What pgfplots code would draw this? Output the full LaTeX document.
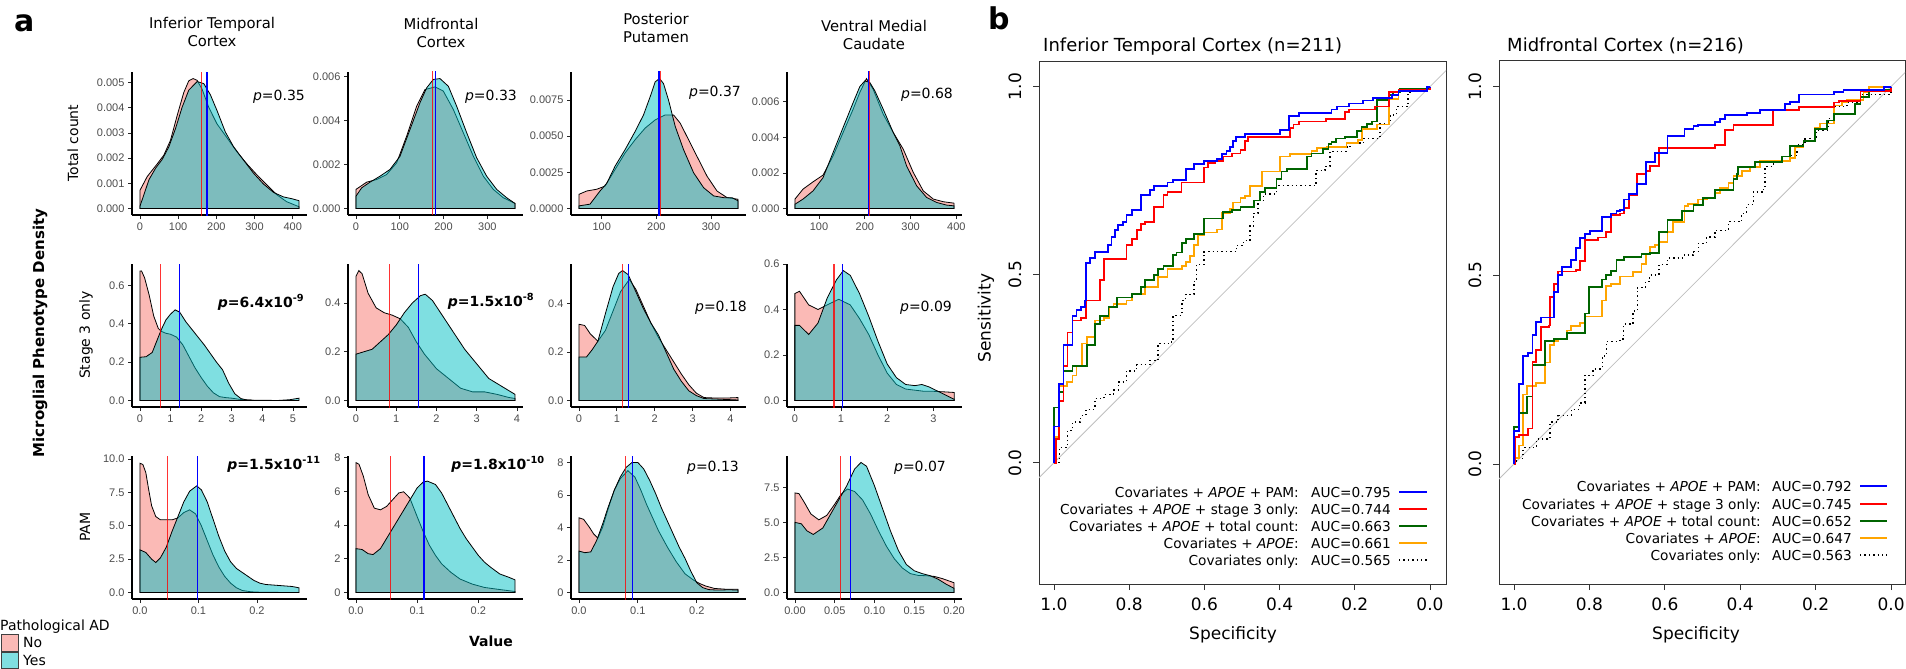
\documentclass[border=0pt]{standalone}
\usepackage{fontspec}
\setmainfont{DejaVu Sans}[BoldFont={DejaVu Sans Bold},ItalicFont={DejaVu Sans Oblique},BoldItalicFont={DejaVu Sans Bold Oblique}]
\newfontfamily\arialf{Liberation Sans}
\usepackage{pgfplots}
\pgfplotsset{compat=1.18}

\definecolor{ggpink}{HTML}{F8766D}
\definecolor{ggteal}{HTML}{00BFC4}
\definecolor{rocgreen}{HTML}{006400}
\definecolor{rocorange}{HTML}{FFA500}

\pgfplotsset{
  dens/.style={scale only axis, width=175pt, height=143pt, anchor=south west,
    axis x line*=bottom, axis y line*=left,
    axis line style={-, line width=1.1pt},
    tick align=outside, major tick length=4pt,
    every tick/.style={black!85, line width=0.8pt},
    tick label style={font=\arialf\fontsize{11}{13}\selectfont, text=black!70},
    scaled ticks=false, clip=true},
  nopat/.style={draw=black, line width=0.8pt, fill=ggpink, fill opacity=0.5},
  yespat/.style={draw=black, line width=0.8pt, fill=ggteal, fill opacity=0.5},
  mno/.style={red, line width=1.3pt, opacity=0.8},
  myes/.style={blue, line width=1.3pt},
  roc/.style={scale only axis, anchor=south west, x dir=reverse,
    axis line style={line width=0.9pt, black!80},
    xtick={0,0.2,0.4,0.6,0.8,1}, xticklabels={0.0,0.2,0.4,0.6,0.8,1.0},
    ytick={0,0.5,1}, yticklabels={0.0,0.5,1.0},
    xtick pos=bottom, ytick pos=left, tick align=outside, major tick length=6pt,
    every tick/.style={black!80, line width=0.9pt},
    tick label style={font=\fontsize{17}{19}\selectfont},
    xticklabel shift=4pt, yticklabel shift=8pt,
    yticklabel style={rotate=90, anchor=south},
    clip=true},
  rb/.style={blue, line width=1.8pt, const plot},
  rr/.style={red, line width=1.8pt, const plot},
  rg/.style={rocgreen, line width=1.8pt, const plot},
  ro/.style={rocorange, line width=1.8pt, const plot},
  rk/.style={black, line width=1.4pt, dash pattern=on 1.4pt off 3pt, const plot},
}

\begin{document}
\begin{tikzpicture}
\useasboundingbox (0pt,0pt) rectangle (1906pt,-669pt);

% ---------------- panel a : row 1, total count ----------------
\begin{axis}[dens, at={(132pt,-215pt)}, xmin=-20.8, xmax=437.3, ymin=-0.000258, ymax=0.00542,
  xtick={0,100,200,300,400}, xticklabels={0,100,200,300,400},
  ytick={0,0.001,0.002,0.003,0.004,0.005}, yticklabels={0.000,0.001,0.002,0.003,0.004,0.005}]
\addplot[nopat] coordinates {(0,0) (0,0.00072) (19.1,0.00127) (45.2,0.00177) (62.6,0.00212) (80,0.00271) (97.4,0.00369) (114.8,0.00461) (127.8,0.00507) (139.1,0.00516) (149.6,0.00509) (162.6,0.00474) (180,0.00402) (201.7,0.00336) (227.8,0.00281) (253.9,0.00225) (280,0.00177) (306,0.00134) (332,0.00094) (358,0.00055) (384,0.00027) (416.5,0.00007) (416.5,0)} \closedcycle;
\addplot[yespat] coordinates {(0,0) (0,0.00009) (10.4,0.00055) (23.5,0.00114) (40.9,0.0016) (58.3,0.00195) (75.7,0.00245) (93,0.00317) (110.4,0.00402) (127.8,0.0047) (149.6,0.00504) (167,0.00496) (184.3,0.00452) (201.7,0.00389) (223.5,0.00304) (245.2,0.00245) (271.3,0.00192) (297.4,0.0014) (323.5,0.00097) (349.6,0.00064) (375.7,0.00046) (397.4,0.00039) (416.5,0.00031) (416.5,0)} \closedcycle;
\addplot[mno] coordinates {(160.9,-0.0003) (160.9,0.0055)};
\addplot[myes] coordinates {(175.7,-0.0003) (175.7,0.0055)};
\end{axis}

\begin{axis}[dens, at={(348pt,-215pt)}, xmin=-18.2, xmax=381.5, ymin=-0.000296, ymax=0.00622,
  xtick={0,100,200,300}, xticklabels={0,100,200,300},
  ytick={0,0.002,0.004,0.006}, yticklabels={0.000,0.002,0.004,0.006}]
\addplot[nopat] coordinates {(0,0) (0,0.00087) (24.4,0.0012) (47.2,0.00132) (70.1,0.00155) (92.9,0.00208) (115.8,0.0033) (138.6,0.00466) (157.7,0.00542) (180.5,0.00554) (199.5,0.00535) (222.4,0.00451) (245.2,0.00345) (268.1,0.00238) (290.9,0.00147) (313.8,0.00087) (336.6,0.00049) (363.3,0.00023) (363.3,0)} \closedcycle;
\addplot[yespat] coordinates {(0,0) (0,0.00056) (12.9,0.00094) (32,0.0012) (54.8,0.00147) (77.7,0.00178) (100.5,0.00238) (123.4,0.0036) (146.2,0.00482) (161.5,0.0055) (176.7,0.00588) (191.9,0.00592) (211,0.00557) (230,0.00466) (252.9,0.00345) (275.7,0.00231) (298.6,0.00147) (321.4,0.00087) (344.2,0.00049) (363.3,0.00023) (363.3,0)} \closedcycle;
\addplot[mno] coordinates {(174.4,-0.0003) (174.4,0.0063)};
\addplot[myes] coordinates {(182,-0.0003) (182,0.0063)};
\end{axis}

\begin{axis}[dens, at={(571pt,-215pt)}, xmin=43.8, xmax=364.1, ymin=-0.00045, ymax=0.00944,
  xtick={100,200,300}, xticklabels={100,200,300},
  ytick={0,0.0025,0.005,0.0075}, yticklabels={0.0000,0.0025,0.0050,0.0075}]
\addplot[nopat] coordinates {(58.4,0) (58.4,0.00098) (72.5,0.00121) (90.8,0.00133) (106.1,0.00155) (124.5,0.0027) (142.8,0.00384) (161.2,0.00476) (179.5,0.00556) (197.9,0.00613) (216.2,0.00647) (231.5,0.00647) (243.7,0.0059) (256,0.00498) (274.3,0.00361) (292.7,0.00224) (311,0.00121) (329.4,0.00075) (349.5,0.00064) (349.5,0)} \closedcycle;
\addplot[yespat] coordinates {(58.4,0) (58.4,0.00018) (78.6,0.0003) (96.9,0.00121) (109.2,0.00174) (124.5,0.00293) (142.8,0.00407) (161.2,0.00533) (176.5,0.00647) (188.7,0.00773) (197.9,0.00876) (205.8,0.00899) (213.1,0.00864) (222.3,0.0075) (234.6,0.00567) (249.8,0.00407) (268.2,0.00247) (286.5,0.00144) (304.9,0.00087) (323.2,0.00075) (338.5,0.00075) (349.5,0.00053) (349.5,0)} \closedcycle;
\addplot[myes] coordinates {(204.6,-0.0005) (204.6,0.0095)};
\addplot[mno] coordinates {(207,-0.0005) (207,0.0095)};
\end{axis}

\begin{axis}[dens, at={(787pt,-215pt)}, xmin=30, xmax=412.3, ymin=-0.000366, ymax=0.00768,
  xtick={100,200,300,400}, xticklabels={100,200,300,400},
  ytick={0,0.002,0.004,0.006}, yticklabels={0.000,0.002,0.004,0.006}]
\addplot[nopat] coordinates {(47.4,0) (47.4,0.00053) (65,0.00109) (86.9,0.0015) (108.8,0.00188) (130.7,0.00296) (152.6,0.00428) (174.5,0.00559) (189.1,0.00653) (203.6,0.00731) (218.2,0.00671) (240.1,0.00531) (262,0.00428) (283.9,0.00334) (305.8,0.00203) (327.7,0.00099) (349.6,0.00053) (371.5,0.00038) (394.9,0.0003) (394.9,0)} \closedcycle;
\addplot[yespat] coordinates {(47.4,0) (47.4,0.00024) (65,0.00053) (86.9,0.00099) (108.8,0.00174) (130.7,0.00315) (152.6,0.00456) (174.5,0.00596) (189.1,0.00686) (200,0.00718) (210.9,0.00709) (221.9,0.00662) (240.1,0.00559) (262,0.00428) (276.6,0.00353) (291.2,0.0024) (313.1,0.00128) (335,0.00062) (356.9,0.00034) (378.8,0.00019) (394.9,0.00015) (394.9,0)} \closedcycle;
\addplot[myes] coordinates {(207.3,-0.0004) (207.3,0.0078)};
\addplot[mno] coordinates {(210.9,-0.0004) (210.9,0.0078)};
\end{axis}

% ---------------- panel a : row 2, stage 3 only ----------------
\begin{axis}[dens, at={(132pt,-407pt)}, xmin=-0.26, xmax=5.46, ymin=-0.034, ymax=0.711,
  xtick={0,1,2,3,4,5}, xticklabels={0,1,2,3,4,5},
  ytick={0,0.2,0.4,0.6}, yticklabels={0.0,0.2,0.4,0.6}]
\addplot[nopat] coordinates {(0,0) (0,0.674) (0.05,0.675) (0.15,0.64) (0.3,0.55) (0.45,0.44) (0.6,0.375) (0.7,0.36) (0.85,0.35) (1.0,0.345) (1.2,0.33) (1.4,0.29) (1.6,0.23) (1.8,0.17) (2.0,0.12) (2.2,0.075) (2.4,0.04) (2.6,0.02) (2.8,0.015) (3.0,0.012) (3.3,0.005) (3.7,0.001) (3.7,0)} \closedcycle;
\addplot[yespat] coordinates {(0,0) (0,0.225) (0.2,0.228) (0.4,0.25) (0.6,0.33) (0.7,0.37) (0.85,0.42) (1.0,0.45) (1.15,0.472) (1.3,0.46) (1.5,0.41) (1.7,0.37) (1.9,0.33) (2.1,0.29) (2.3,0.245) (2.5,0.2) (2.7,0.16) (2.9,0.09) (3.1,0.035) (3.3,0.01) (3.5,0.002) (4.5,0) (4.9,0.004) (5.2,0.012) (5.2,0)} \closedcycle;
\addplot[mno] coordinates {(0.671,-1) (0.671,1)};
\addplot[myes] coordinates {(1.3,-1) (1.3,1)};
\end{axis}

\begin{axis}[dens, at={(348pt,-407pt)}, xmin=-0.2, xmax=4.15, ymin=-0.027, ymax=0.56,
  xtick={0,1,2,3,4}, xticklabels={0,1,2,3,4},
  ytick={0,0.2,0.4}, yticklabels={0.0,0.2,0.4}]
\addplot[nopat] coordinates {(0,0) (0,0.51) (0.07,0.533) (0.15,0.52) (0.3,0.44) (0.5,0.38) (0.7,0.36) (0.9,0.35) (1.1,0.335) (1.3,0.3) (1.5,0.24) (1.7,0.19) (2.0,0.13) (2.3,0.09) (2.6,0.05) (2.9,0.035) (3.2,0.035) (3.5,0.025) (3.8,0.012) (3.95,0.008) (3.95,0)} \closedcycle;
\addplot[yespat] coordinates {(0,0) (0,0.19) (0.2,0.2) (0.4,0.21) (0.6,0.24) (0.8,0.27) (1.0,0.31) (1.2,0.36) (1.4,0.4) (1.6,0.43) (1.72,0.436) (1.9,0.41) (2.1,0.36) (2.3,0.31) (2.5,0.26) (2.7,0.21) (3.0,0.15) (3.3,0.09) (3.6,0.06) (3.95,0.025) (3.95,0)} \closedcycle;
\addplot[mno] coordinates {(0.83,-1) (0.83,1)};
\addplot[myes] coordinates {(1.55,-1) (1.55,1)};
\end{axis}

\begin{axis}[dens, at={(571pt,-407pt)}, xmin=-0.21, xmax=4.41, ymin=-0.027, ymax=0.564,
  xtick={0,1,2,3,4}, xticklabels={0,1,2,3,4},
  ytick={0,0.2,0.4}, yticklabels={0.0,0.2,0.4}]
\addplot[nopat] coordinates {(0,0) (0,0.315) (0.15,0.31) (0.3,0.275) (0.5,0.245) (0.7,0.29) (0.9,0.37) (1.1,0.45) (1.33,0.5) (1.5,0.46) (1.7,0.39) (1.9,0.32) (2.1,0.26) (2.3,0.21) (2.5,0.16) (2.7,0.11) (2.9,0.065) (3.1,0.03) (3.3,0.012) (3.6,0.01) (3.9,0.01) (4.2,0.012) (4.2,0)} \closedcycle;
\addplot[yespat] coordinates {(0,0) (0,0.18) (0.2,0.18) (0.35,0.21) (0.5,0.245) (0.7,0.36) (0.9,0.47) (1.05,0.525) (1.15,0.537) (1.3,0.52) (1.5,0.45) (1.7,0.38) (1.9,0.32) (2.1,0.27) (2.3,0.2) (2.5,0.13) (2.7,0.08) (2.9,0.04) (3.1,0.02) (3.3,0.008) (3.6,0.006) (3.9,0.004) (4.2,0.002) (4.2,0)} \closedcycle;
\addplot[mno] coordinates {(1.15,-1) (1.15,1)};
\addplot[myes] coordinates {(1.31,-1) (1.31,1)};
\end{axis}

\begin{axis}[dens, at={(787pt,-407pt)}, xmin=-0.17, xmax=3.62, ymin=-0.029, ymax=0.6,
  xtick={0,1,2,3}, xticklabels={0,1,2,3},
  ytick={0,0.2,0.4,0.6}, yticklabels={0.0,0.2,0.4,0.6}]
\addplot[nopat] coordinates {(0,0) (0,0.47) (0.1,0.48) (0.3,0.42) (0.5,0.40) (0.7,0.42) (0.95,0.445) (1.2,0.42) (1.4,0.36) (1.6,0.29) (1.8,0.2) (2.0,0.12) (2.2,0.07) (2.4,0.05) (2.6,0.045) (2.8,0.04) (3.0,0.04) (3.2,0.038) (3.45,0.035) (3.45,0)} \closedcycle;
\addplot[yespat] coordinates {(0,0) (0,0.33) (0.1,0.33) (0.3,0.29) (0.5,0.34) (0.7,0.45) (0.9,0.53) (1.05,0.571) (1.2,0.55) (1.4,0.47) (1.6,0.37) (1.8,0.26) (2.0,0.16) (2.2,0.1) (2.4,0.07) (2.6,0.065) (2.75,0.07) (2.9,0.06) (3.1,0.04) (3.3,0.02) (3.45,0.005) (3.45,0)} \closedcycle;
\addplot[mno] coordinates {(0.845,-1) (0.845,1)};
\addplot[myes] coordinates {(1.03,-1) (1.03,1)};
\end{axis}

% ---------------- panel a : row 3, PAM ----------------
\begin{axis}[dens, at={(132pt,-599pt)}, xmin=-0.0136, xmax=0.2856, ymin=-0.49, ymax=10.24,
  xtick={0,0.1,0.2}, xticklabels={0.0,0.1,0.2},
  ytick={0,2.5,5,7.5,10}, yticklabels={0.0,2.5,5.0,7.5,10.0}]
\addplot[nopat] coordinates {(0,0) (0,9.7) (0.005,9.6) (0.01,9.0) (0.015,7.7) (0.02,6.5) (0.027,5.7) (0.035,5.45) (0.045,5.45) (0.055,5.45) (0.065,5.6) (0.075,6.0) (0.085,6.2) (0.095,5.9) (0.105,5.0) (0.115,3.9) (0.125,2.8) (0.135,1.9) (0.145,1.2) (0.155,0.7) (0.165,0.35) (0.175,0.15) (0.19,0.05) (0.21,0.01) (0.272,0)} \closedcycle;
\addplot[yespat] coordinates {(0,0) (0,3.2) (0.01,3.0) (0.02,2.5) (0.027,2.25) (0.035,2.6) (0.045,3.4) (0.055,4.6) (0.065,5.7) (0.075,6.8) (0.085,7.6) (0.097,8.0) (0.105,7.7) (0.115,6.8) (0.125,5.5) (0.135,4.2) (0.145,3.1) (0.155,2.3) (0.165,1.8) (0.175,1.5) (0.185,1.2) (0.195,0.9) (0.205,0.7) (0.215,0.6) (0.23,0.55) (0.245,0.5) (0.26,0.45) (0.272,0.35) (0.272,0)} \closedcycle;
\addplot[mno] coordinates {(0.047,-1) (0.047,20)};
\addplot[myes] coordinates {(0.098,-1) (0.098,20)};
\end{axis}

\begin{axis}[dens, at={(348pt,-599pt)}, xmin=-0.013, xmax=0.273, ymin=-0.385, ymax=8.09,
  xtick={0,0.1,0.2}, xticklabels={0.0,0.1,0.2},
  ytick={0,2,4,6,8}, yticklabels={0,2,4,6,8}]
\addplot[nopat] coordinates {(0,0) (0,7.7) (0.005,7.6) (0.012,6.9) (0.02,5.8) (0.03,5.0) (0.04,4.9) (0.05,5.1) (0.06,5.5) (0.07,5.9) (0.078,5.97) (0.088,5.6) (0.1,4.5) (0.11,3.6) (0.12,2.8) (0.13,2.2) (0.14,1.7) (0.155,1.2) (0.17,0.8) (0.19,0.5) (0.21,0.3) (0.23,0.2) (0.26,0.06) (0.26,0)} \closedcycle;
\addplot[yespat] coordinates {(0,0) (0,2.6) (0.01,2.55) (0.02,2.3) (0.028,2.25) (0.04,2.6) (0.05,3.2) (0.06,3.8) (0.07,4.4) (0.08,5.0) (0.09,5.6) (0.1,6.2) (0.11,6.55) (0.117,6.6) (0.13,6.4) (0.14,5.9) (0.15,5.2) (0.16,4.5) (0.17,3.8) (0.18,3.2) (0.19,2.7) (0.2,2.2) (0.21,1.8) (0.22,1.5) (0.235,1.1) (0.25,0.9) (0.26,0.75) (0.26,0)} \closedcycle;
\addplot[mno] coordinates {(0.056,-1) (0.056,20)};
\addplot[myes] coordinates {(0.111,-1) (0.111,20)};
\end{axis}

\begin{axis}[dens, at={(571pt,-599pt)}, xmin=-0.0135, xmax=0.2835, ymin=-0.4, ymax=8.4,
  xtick={0,0.1,0.2}, xticklabels={0.0,0.1,0.2},
  ytick={0,2,4,6,8}, yticklabels={0,2,4,6,8}]
\addplot[nopat] coordinates {(0,0) (0,4.6) (0.008,4.5) (0.018,4.0) (0.025,3.6) (0.032,3.35) (0.04,4.0) (0.05,5.2) (0.06,6.3) (0.07,7.0) (0.083,7.5) (0.095,7.1) (0.105,6.3) (0.115,5.4) (0.125,4.6) (0.135,3.8) (0.15,2.8) (0.165,1.9) (0.18,1.15) (0.195,0.75) (0.205,0.55) (0.215,0.4) (0.23,0.25) (0.25,0.2) (0.27,0.2) (0.27,0)} \closedcycle;
\addplot[yespat] coordinates {(0,0) (0,2.55) (0.01,2.45) (0.02,2.5) (0.03,3.2) (0.04,4.2) (0.05,5.3) (0.06,6.3) (0.07,7.1) (0.08,7.7) (0.09,8.0) (0.1,8.0) (0.11,7.6) (0.12,6.9) (0.13,6.1) (0.14,5.2) (0.15,4.4) (0.16,3.6) (0.17,2.8) (0.18,2.1) (0.19,1.3) (0.2,0.6) (0.21,0.3) (0.22,0.18) (0.235,0.15) (0.255,0.17) (0.27,0.15) (0.27,0)} \closedcycle;
\addplot[mno] coordinates {(0.079,-1) (0.079,20)};
\addplot[myes] coordinates {(0.091,-1) (0.091,20)};
\end{axis}

\begin{axis}[dens, at={(787pt,-599pt)}, xmin=-0.01, xmax=0.21, ymin=-0.46, ymax=9.73,
  xtick={0,0.05,0.1,0.15,0.2}, xticklabels={0.00,0.05,0.10,0.15,0.20},
  ytick={0,2.5,5,7.5}, yticklabels={0.0,2.5,5.0,7.5}]
\addplot[nopat] coordinates {(0,0) (0,7.1) (0.005,7.05) (0.012,6.4) (0.02,5.6) (0.03,5.18) (0.04,5.5) (0.05,6.3) (0.058,7.0) (0.066,7.38) (0.075,7.2) (0.085,6.6) (0.095,5.6) (0.105,4.4) (0.115,3.3) (0.125,2.4) (0.135,1.75) (0.145,1.35) (0.155,1.22) (0.165,1.2) (0.175,1.15) (0.185,1.0) (0.195,0.8) (0.2,0.7) (0.2,0)} \closedcycle;
\addplot[yespat] coordinates {(0,0) (0,5.0) (0.008,4.9) (0.015,4.4) (0.023,4.14) (0.035,4.6) (0.045,5.6) (0.055,6.6) (0.065,7.6) (0.075,8.8) (0.083,9.27) (0.09,9.0) (0.1,7.6) (0.11,6.0) (0.12,4.4) (0.13,3.0) (0.14,2.0) (0.15,1.55) (0.16,1.35) (0.17,1.2) (0.18,0.95) (0.19,0.6) (0.2,0.3) (0.2,0)} \closedcycle;
\addplot[mno] coordinates {(0.057,-1) (0.057,20)};
\addplot[myes] coordinates {(0.070,-1) (0.070,20)};
\end{axis}

% ---------------- panel a : texts ----------------
\begin{scope}[every node/.style={font=\fontsize{14.8}{17}\selectfont, anchor=base}]
\node at (212pt,-29pt) {Inferior Temporal};
\node at (212pt,-47pt) {Cortex};
\node at (441pt,-30pt) {Midfrontal};
\node at (441pt,-48pt) {Cortex};
\node at (656pt,-25pt) {Posterior};
\node at (656pt,-43pt) {Putamen};
\node at (874pt,-32pt) {Ventral Medial};
\node at (874pt,-49pt) {Caudate};
\end{scope}
\begin{scope}[every node/.style={font=\fontsize{14}{16}\selectfont, anchor=base}]
\node at (279pt,-100pt) {\textit{p}=0.35};
\node at (491pt,-100pt) {\textit{p}=0.33};
\node at (715pt,-96pt) {\textit{p}=0.37};
\node at (927pt,-99pt) {\textit{p}=0.68};
\node at (261pt,-307pt) {\textbf{\textit{p}=6.4x10\textsuperscript{-9}}};
\node at (491pt,-306pt) {\textbf{\textit{p}=1.5x10\textsuperscript{-8}}};
\node at (721pt,-311pt) {\textit{p}=0.18};
\node at (926pt,-311pt) {\textit{p}=0.09};
\node at (274pt,-469pt) {\textbf{\textit{p}=1.5x10\textsuperscript{-11}}};
\node at (498pt,-469pt) {\textbf{\textit{p}=1.8x10\textsuperscript{-10}}};
\node at (713pt,-471pt) {\textit{p}=0.13};
\node at (920pt,-471pt) {\textit{p}=0.07};
\end{scope}
\begin{scope}[every node/.style={font=\fontsize{14}{16}\selectfont, rotate=90}]
\node at (73pt,-143pt) {Total count};
\node at (86pt,-335pt) {Stage 3 only};
\node at (85pt,-527pt) {PAM};
\end{scope}
\node[rotate=90, font=\bfseries\fontsize{15}{17}\selectfont] at (40pt,-333pt) {Microglial Phenotype Density};
\node[anchor=base, font=\bfseries\fontsize{14}{16}\selectfont] at (491pt,-646pt) {Value};
\node[anchor=base west, font=\fontsize{14}{16}\selectfont, inner sep=0pt] at (0pt,-630pt) {Pathological AD};
\filldraw[fill=ggpink!50!white, draw=black!75, line width=0.8pt] (1pt,-634pt) rectangle (18pt,-651pt);
\filldraw[fill=ggteal!50!white, draw=black!75, line width=0.8pt] (1pt,-652pt) rectangle (18pt,-668pt);
\node[anchor=base west, font=\fontsize{14}{16}\selectfont, inner sep=0pt] at (23pt,-647pt) {No};
\node[anchor=base west, font=\fontsize{14}{16}\selectfont, inner sep=0pt] at (23pt,-665pt) {Yes};
\node[anchor=base west, font=\bfseries\fontsize{30}{32}\selectfont, inner sep=0pt] at (14pt,-32pt) {a};
\node[anchor=base west, font=\bfseries\fontsize{30}{32}\selectfont, inner sep=0pt] at (988pt,-30pt) {b};

% ---------------- panel b : ROC, inferior temporal cortex ----------------
\begin{axis}[roc, at={(1039pt,-584pt)}, width=407pt, height=523pt,
  xmin=-0.0426, xmax=1.0399, ymin=-0.3225, ymax=1.068]
\addplot[gray!50, line width=0.8pt] coordinates {(1.2,-0.2) (-0.2,1.2)};
\addplot[rk] coordinates {(1,0) (0.986,0.040) (0.964,0.085) (0.951,0.108) (0.929,0.125) (0.915,0.142) (0.891,0.170) (0.867,0.181) (0.842,0.193) (0.829,0.215) (0.807,0.244) (0.780,0.261) (0.745,0.272) (0.723,0.317) (0.687,0.329) (0.684,0.391) (0.660,0.431) (0.650,0.448) (0.628,0.482) (0.621,0.527) (0.601,0.561) (0.514,0.578) (0.496,0.590) (0.479,0.629) (0.470,0.663) (0.457,0.697) (0.443,0.714) (0.408,0.737) (0.303,0.777) (0.279,0.788) (0.266,0.828) (0.222,0.839) (0.213,0.850) (0.177,0.862) (0.133,0.901) (0.106,0.924) (0.089,0.947) (0.058,0.986) (0.044,0.994) (0,1)};
\addplot[ro] coordinates {(1,0) (1,0.068) (0.986,0.204) (0.966,0.215) (0.951,0.232) (0.940,0.257) (0.926,0.317) (0.913,0.334) (0.891,0.378) (0.867,0.385) (0.854,0.414) (0.842,0.423) (0.807,0.431) (0.793,0.448) (0.758,0.468) (0.723,0.493) (0.698,0.516) (0.660,0.524) (0.650,0.533) (0.638,0.550) (0.628,0.578) (0.616,0.604) (0.601,0.612) (0.567,0.620) (0.554,0.663) (0.532,0.675) (0.523,0.692) (0.504,0.703) (0.492,0.709) (0.479,0.735) (0.446,0.774) (0.399,0.814) (0.372,0.820) (0.315,0.828) (0.301,0.836) (0.275,0.839) (0.222,0.850) (0.191,0.858) (0.180,0.888) (0.142,0.899) (0.108,0.967) (0.084,0.992) (0,1)};
\addplot[rg] coordinates {(1,0) (1,0.147) (0.986,0.187) (0.975,0.244) (0.951,0.257) (0.913,0.314) (0.891,0.368) (0.878,0.391) (0.855,0.414) (0.832,0.439) (0.793,0.448) (0.769,0.468) (0.758,0.485) (0.734,0.499) (0.723,0.514) (0.709,0.522) (0.684,0.553) (0.674,0.559) (0.660,0.584) (0.650,0.595) (0.628,0.609) (0.601,0.649) (0.551,0.666) (0.527,0.672) (0.504,0.679) (0.468,0.697) (0.452,0.720) (0.439,0.731) (0.408,0.754) (0.395,0.774) (0.381,0.780) (0.328,0.814) (0.315,0.822) (0.284,0.833) (0.270,0.848) (0.262,0.853) (0.250,0.862) (0.226,0.867) (0.195,0.882) (0.182,0.892) (0.168,0.901) (0.155,0.907) (0.142,0.964) (0.108,0.978) (0.098,0.986) (0.080,0.994) (0,1)};
\addplot[rr] coordinates {(1,0) (0.995,0.062) (0.986,0.164) (0.975,0.257) (0.964,0.346) (0.951,0.378) (0.929,0.385) (0.915,0.431) (0.878,0.485) (0.867,0.541) (0.807,0.578) (0.793,0.595) (0.780,0.618) (0.769,0.635) (0.758,0.641) (0.734,0.680) (0.709,0.711) (0.698,0.720) (0.661,0.745) (0.601,0.785) (0.590,0.797) (0.572,0.803) (0.551,0.814) (0.527,0.822) (0.504,0.831) (0.492,0.856) (0.483,0.867) (0.372,0.890) (0.363,0.899) (0.348,0.907) (0.277,0.913) (0.226,0.933) (0.215,0.939) (0.146,0.947) (0.108,0.986) (0.084,0.992) (0,1)};
\addplot[rb] coordinates {(1,0) (1,0.096) (0.987,0.210) (0.975,0.314) (0.951,0.391) (0.940,0.406) (0.929,0.414) (0.917,0.431) (0.915,0.531) (0.904,0.544) (0.891,0.561) (0.856,0.578) (0.847,0.601) (0.838,0.618) (0.829,0.632) (0.817,0.641) (0.807,0.658) (0.793,0.672) (0.769,0.711) (0.745,0.726) (0.734,0.735) (0.698,0.745) (0.684,0.751) (0.650,0.780) (0.628,0.794) (0.601,0.802) (0.567,0.808) (0.554,0.820) (0.541,0.828) (0.532,0.839) (0.523,0.856) (0.516,0.867) (0.492,0.873) (0.399,0.884) (0.374,0.922) (0.348,0.929) (0.262,0.939) (0.248,0.947) (0.215,0.955) (0.179,0.963) (0.151,0.969) (0.102,0.978) (0.084,0.989) (0.009,0.998) (0,1)};
\end{axis}

% ---------------- panel b : ROC, midfrontal cortex ----------------
\begin{axis}[roc, at={(1499pt,-584pt)}, width=406pt, height=524pt,
  xmin=-0.037, xmax=1.0398, ymin=-0.318, ymax=1.0705]
\addplot[gray!50, line width=0.8pt] coordinates {(1.2,-0.2) (-0.2,1.2)};
\addplot[rk] coordinates {(1,0) (0.994,0.015) (0.976,0.043) (0.941,0.066) (0.905,0.077) (0.905,0.111) (0.883,0.128) (0.848,0.145) (0.826,0.162) (0.812,0.235) (0.790,0.252) (0.766,0.286) (0.755,0.325) (0.719,0.331) (0.709,0.371) (0.684,0.405) (0.673,0.467) (0.651,0.484) (0.640,0.501) (0.615,0.529) (0.593,0.546) (0.548,0.554) (0.524,0.563) (0.511,0.585) (0.489,0.602) (0.467,0.619) (0.431,0.642) (0.396,0.664) (0.383,0.687) (0.365,0.721) (0.338,0.730) (0.334,0.789) (0.312,0.802) (0.267,0.817) (0.250,0.845) (0.228,0.862) (0.197,0.885) (0.166,0.915) (0.152,0.947) (0.117,0.958) (0.081,0.979) (0,1)};
\addplot[ro] coordinates {(1,0) (1,0.015) (0.987,0.049) (0.976,0.184) (0.965,0.207) (0.941,0.215) (0.918,0.269) (0.905,0.316) (0.895,0.325) (0.883,0.331) (0.859,0.354) (0.848,0.365) (0.826,0.374) (0.812,0.391) (0.766,0.433) (0.755,0.472) (0.743,0.478) (0.719,0.497) (0.684,0.508) (0.662,0.529) (0.651,0.557) (0.640,0.576) (0.626,0.580) (0.615,0.588) (0.593,0.614) (0.578,0.642) (0.548,0.684) (0.538,0.689) (0.511,0.701) (0.489,0.706) (0.467,0.719) (0.454,0.732) (0.431,0.744) (0.418,0.764) (0.396,0.777) (0.374,0.786) (0.347,0.803) (0.267,0.811) (0.254,0.840) (0.232,0.856) (0.201,0.890) (0.188,0.902) (0.152,0.950) (0.130,0.960) (0.117,0.964) (0.073,0.986) (0.059,0.998) (0,1)};
\addplot[rg] coordinates {(1,0) (1,0.097) (0.987,0.136) (0.965,0.179) (0.951,0.263) (0.918,0.325) (0.895,0.331) (0.859,0.348) (0.812,0.399) (0.801,0.470) (0.766,0.489) (0.755,0.501) (0.743,0.512) (0.728,0.540) (0.709,0.548) (0.662,0.557) (0.640,0.560) (0.615,0.614) (0.593,0.647) (0.555,0.670) (0.524,0.687) (0.498,0.704) (0.467,0.727) (0.418,0.755) (0.409,0.768) (0.405,0.786) (0.360,0.800) (0.290,0.815) (0.267,0.843) (0.232,0.856) (0.201,0.888) (0.170,0.910) (0.152,0.927) (0.095,0.953) (0.081,0.972) (0.059,0.992) (0,1)};
\addplot[rr] coordinates {(1,0) (0.998,0.071) (0.987,0.077) (0.963,0.094) (0.951,0.271) (0.941,0.303) (0.929,0.362) (0.907,0.367) (0.905,0.442) (0.895,0.478) (0.883,0.510) (0.836,0.515) (0.826,0.538) (0.812,0.593) (0.777,0.600) (0.755,0.614) (0.743,0.659) (0.719,0.664) (0.709,0.678) (0.695,0.712) (0.673,0.768) (0.651,0.777) (0.640,0.789) (0.615,0.837) (0.467,0.845) (0.440,0.885) (0.418,0.898) (0.314,0.938) (0.245,0.947) (0.152,0.958) (0.139,0.962) (0.081,0.989) (0,1)};
\addplot[rb] coordinates {(1,0) (1,0.088) (0.987,0.212) (0.976,0.286) (0.963,0.294) (0.951,0.342) (0.941,0.376) (0.929,0.388) (0.895,0.455) (0.883,0.501) (0.872,0.523) (0.848,0.540) (0.836,0.572) (0.826,0.599) (0.812,0.610) (0.799,0.617) (0.766,0.655) (0.743,0.664) (0.728,0.670) (0.719,0.673) (0.709,0.701) (0.695,0.715) (0.673,0.741) (0.651,0.800) (0.626,0.825) (0.593,0.870) (0.548,0.887) (0.524,0.895) (0.511,0.899) (0.467,0.907) (0.454,0.915) (0.440,0.924) (0.383,0.930) (0.347,0.938) (0.281,0.953) (0.267,0.960) (0.245,0.979) (0.152,0.986) (0.126,0.992) (0.019,0.998) (0,1)};
\end{axis}

% ---------------- panel b : texts and legend keys ----------------
\begin{scope}[every node/.style={inner sep=0pt, font=\fontsize{18}{20}\selectfont}]
\node[anchor=base west] at (1043pt,-52pt) {Inferior Temporal Cortex (n=211)};
\node[anchor=base west] at (1507pt,-52pt) {Midfrontal Cortex (n=216)};
\end{scope}
\begin{scope}[every node/.style={inner sep=0pt, font=\fontsize{17}{19}\selectfont}]
\node[anchor=base] at (1233pt,-639pt) {Specificity};
\node[anchor=base] at (1696pt,-639pt) {Specificity};
\node[rotate=90] at (986pt,-318pt) {Sensitivity};
\end{scope}
\begin{scope}[every node/.style={inner sep=0pt, font=\fontsize{13.7}{16}\selectfont}]
\node[anchor=base east] at (1299pt,-497pt) {Covariates + \textit{APOE} + PAM:};
\node[anchor=base east] at (1299pt,-514pt) {Covariates + \textit{APOE} + stage 3 only:};
\node[anchor=base east] at (1299pt,-531pt) {Covariates + \textit{APOE} + total count:};
\node[anchor=base east] at (1299pt,-548pt) {Covariates + \textit{APOE}:};
\node[anchor=base east] at (1299pt,-565pt) {Covariates only:};
\node[anchor=base west] at (1311pt,-497pt) {AUC=0.795};
\node[anchor=base west] at (1311pt,-514pt) {AUC=0.744};
\node[anchor=base west] at (1311pt,-531pt) {AUC=0.663};
\node[anchor=base west] at (1311pt,-548pt) {AUC=0.661};
\node[anchor=base west] at (1311pt,-565pt) {AUC=0.565};
\node[anchor=base east] at (1761pt,-491pt) {Covariates + \textit{APOE} + PAM:};
\node[anchor=base east] at (1761pt,-509pt) {Covariates + \textit{APOE} + stage 3 only:};
\node[anchor=base east] at (1761pt,-526pt) {Covariates + \textit{APOE} + total count:};
\node[anchor=base east] at (1761pt,-543pt) {Covariates + \textit{APOE}:};
\node[anchor=base east] at (1761pt,-560pt) {Covariates only:};
\node[anchor=base west] at (1772pt,-491pt) {AUC=0.792};
\node[anchor=base west] at (1772pt,-509pt) {AUC=0.745};
\node[anchor=base west] at (1772pt,-526pt) {AUC=0.652};
\node[anchor=base west] at (1772pt,-543pt) {AUC=0.647};
\node[anchor=base west] at (1772pt,-560pt) {AUC=0.563};
\end{scope}
\draw[blue, line width=1.8pt] (1399pt,-492pt) -- (1427pt,-492pt);
\draw[red, line width=1.8pt] (1399pt,-509pt) -- (1427pt,-509pt);
\draw[rocgreen, line width=1.8pt] (1399pt,-526pt) -- (1427pt,-526pt);
\draw[rocorange, line width=1.8pt] (1399pt,-543pt) -- (1427pt,-543pt);
\draw[black, line width=1.4pt, dash pattern=on 1.4pt off 3pt] (1399pt,-560pt) -- (1427pt,-560pt);
\draw[blue, line width=1.8pt] (1860pt,-486pt) -- (1887pt,-486pt);
\draw[red, line width=1.8pt] (1860pt,-504pt) -- (1887pt,-504pt);
\draw[rocgreen, line width=1.8pt] (1860pt,-521pt) -- (1887pt,-521pt);
\draw[rocorange, line width=1.8pt] (1860pt,-538pt) -- (1887pt,-538pt);
\draw[black, line width=1.4pt, dash pattern=on 1.4pt off 3pt] (1860pt,-555pt) -- (1887pt,-555pt);
\end{tikzpicture}
\end{document}
